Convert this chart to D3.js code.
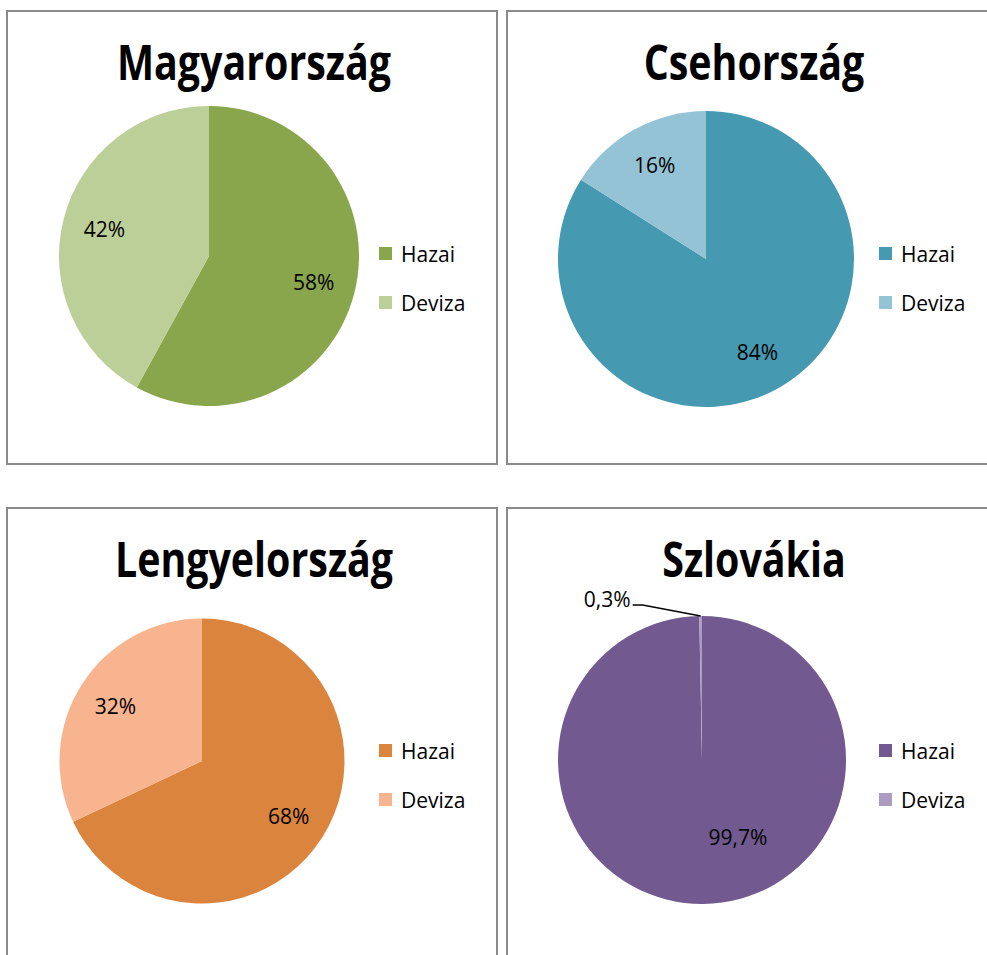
<!DOCTYPE html>
<html>
<head>
<meta charset="utf-8">
<script src="https://cdn.jsdelivr.net/npm/d3@7"></script>
<style>
  body { margin: 0; background: #fff; }
  svg { display: block; font-family: "Open Sans", sans-serif; }
</style>
</head>
<body>
<div id="chart"></div>
<script>
const countries = ['Magyarország', 'Csehország', 'Lengyelország', 'Szlovákia'];
const categories = ['Hazai', 'Deviza'];
const hazai = [58, 84, 68, 99.7];
const deviza = [42, 16, 32, 0.3];
const hazaiColors = ['#8aa64d', '#4599b0', '#db843d', '#72598f'];
const devizaColors = ['#bccf98', '#93c3d4', '#f8b48f', '#ad9bc1'];

// panel boxes and pie placement (relative to each box)
const panels = [
  {x: 7,   y: 11,  cx: 202, cy: 245, r: 150},
  {x: 507, y: 11,  cx: 199, cy: 248, r: 148},
  {x: 7,   y: 508, cx: 195, cy: 253, r: 142.5},
  {x: 507, y: 508, cx: 195, cy: 252, r: 144}
];
const boxW = 490, boxH = 453;

const svg = d3.select('#chart')
  .append('svg')
  .attr('width', 987)
  .attr('height', 955);

const pie = d3.pie().sort(null).value(d => d.value);
const arc = d3.arc().innerRadius(0);
const fmt = v => String(v).replace('.', ',') + '%';

countries.forEach((name, i) => {
  const p = panels[i];
  const data = [
    {key: categories[0], value: hazai[i]},
    {key: categories[1], value: deviza[i]}
  ];
  const color = d3.scaleOrdinal(categories, [hazaiColors[i], devizaColors[i]]);

  const g = svg.append('g').attr('transform', `translate(${p.x},${p.y})`);

  g.append('rect')
    .attr('width', boxW)
    .attr('height', boxH)
    .attr('fill', 'none')
    .attr('stroke', '#8a8a8a')
    .attr('stroke-width', 2);

  g.append('text')
    .attr('transform', `translate(${boxW / 2 + 2},69) scale(0.82,1)`)
    .attr('text-anchor', 'middle')
    .attr('font-size', 48)
    .attr('font-weight', 'bold')
    .text(name);

  const pg = g.append('g').attr('transform', `translate(${p.cx},${p.cy})`);
  const arcs = pie(data);
  arc.outerRadius(p.r);

  pg.selectAll('path')
    .data(arcs)
    .enter()
    .append('path')
    .attr('d', arc)
    .attr('fill', d => color(d.data.key));

  arcs.forEach(d => {
    const share = d.data.value / 100;
    if (share < 0.05) {
      // tiny slice: label outside with a leader line
      const mid = (d.startAngle + d.endAngle) / 2;
      const p0 = [Math.sin(mid) * p.r, -Math.cos(mid) * p.r];
      const p1 = [p0[0] - 58, p0[1] - 11];
      const p2 = [p1[0] - 10, p1[1]];
      pg.append('polyline')
        .attr('points', [p0, p1, p2].map(q => q.join(',')).join(' '))
        .attr('fill', 'none')
        .attr('stroke', '#000')
        .attr('stroke-width', 1.3);
      pg.append('text')
        .attr('x', p2[0] - 2)
        .attr('y', p2[1] + 2)
        .attr('text-anchor', 'end')
        .attr('font-size', 21)
        .text(fmt(d.data.value));
    } else {
      let mid = (d.startAngle + d.endAngle) / 2;
      let rr = p.r * 0.72;
      if (share > 0.95) { mid = 155 * Math.PI / 180; rr = p.r * 0.59; }
      pg.append('text')
        .attr('x', Math.sin(mid) * rr)
        .attr('y', -Math.cos(mid) * rr)
        .attr('dy', '0.36em')
        .attr('text-anchor', 'middle')
        .attr('font-size', 21)
        .text(fmt(d.data.value));
    }
  });

  const legend = g.append('g').attr('transform', 'translate(372,0)');
  const items = legend.selectAll('g')
    .data(categories)
    .enter()
    .append('g')
    .attr('transform', (d, j) => `translate(0,${243 + j * 49})`);
  items.append('rect')
    .attr('x', 0)
    .attr('y', -7)
    .attr('width', 13)
    .attr('height', 13)
    .attr('fill', d => color(d));
  items.append('text')
    .attr('x', 22)
    .attr('dy', '0.36em')
    .attr('font-size', 21)
    .text(d => d);
});
</script>
</body>
</html>
